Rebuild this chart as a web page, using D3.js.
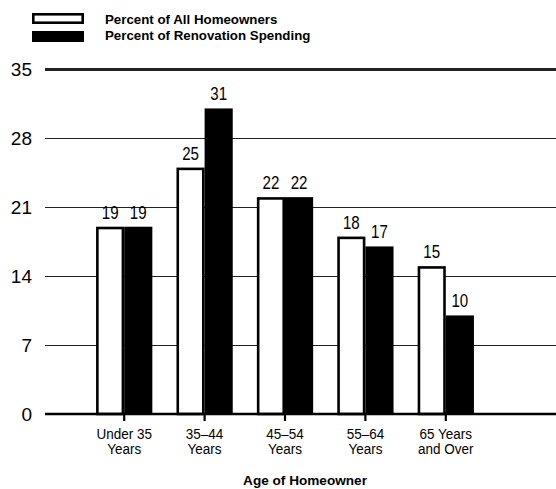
<!DOCTYPE html>
<html>
<head>
<meta charset="utf-8">
<script src="https://cdn.jsdelivr.net/npm/d3@7/dist/d3.min.js"></script>
<style>
  html, body { margin: 0; padding: 0; background: #fff; }
  svg { display: block; }
</style>
</head>
<body>
<svg id="chart" width="556" height="489"></svg>
<script>
// Age groups of homeowners and their two-line axis labels
const categories = ["Under 35 Years", "35–44 Years", "45–54 Years", "55–64 Years", "65 Years and Over"];
const categoryLabels = [["Under 35", "Years"], ["35–44", "Years"], ["45–54", "Years"], ["55–64", "Years"], ["65 Years", "and Over"]];

// Series (percent)
const seriesNames = ["Percent of All Homeowners", "Percent of Renovation Spending"];
const homeowners = [19, 25, 22, 18, 15];
const spending = [19, 31, 22, 17, 10];

// Y-axis ticks
const yTicks = [0, 7, 14, 21, 28, 35];
const axisTitle = "Age of Homeowner";

const W = 556, H = 489;
const plotLeft = 45, plotRight = 556, plotTop = 69, plotBottom = 414;

const sans = "'Liberation Sans', Arial, Helvetica, sans-serif";

const svg = d3.select("#chart");

const y = d3.scaleLinear().domain([0, 35]).range([plotBottom, plotTop]);
const x0 = d3.scaleBand().domain(categories).range([84, 486])
  .paddingInner(0.3).paddingOuter(0.15);
const x1 = d3.scaleBand().domain(seriesNames).range([0, x0.bandwidth()]);
const fills = d3.scaleOrdinal().domain(seriesNames).range(["#fff", "#000"]);

const rows = categories.map((c, i) => ({ cat: c, values: [homeowners[i], spending[i]] }));

// Horizontal gridlines with value labels
const yAxis = svg.append("g")
  .attr("transform", `translate(${plotLeft},0)`)
  .call(d3.axisLeft(y).tickValues(yTicks).tickSize(-(plotRight - plotLeft)).tickPadding(13));
yAxis.select(".domain").remove();
yAxis.selectAll(".tick line")
  .attr("stroke", "#222")
  .attr("stroke-width", d => (d === 35 ? 3 : d === 0 ? 0 : 1.2));
yAxis.selectAll(".tick text")
  .attr("font-family", sans)
  .attr("font-size", 19)
  .attr("fill", "#000");

// Bars
const groups = svg.append("g").selectAll("g")
  .data(rows)
  .join("g")
  .attr("transform", d => `translate(${x0(d.cat)},0)`);

const sw = 2.6;
groups.selectAll("rect")
  .data(d => d.values.map((v, j) => ({ name: seriesNames[j], value: v })))
  .join("rect")
  .attr("x", d => x1(d.name) + (d.name === seriesNames[0] ? sw / 2 : 0))
  .attr("y", d => y(d.value) + (d.name === seriesNames[0] ? sw / 2 : 0))
  .attr("width", d => x1.bandwidth() - (d.name === seriesNames[0] ? sw : 0))
  .attr("height", d => y(0) - y(d.value) - (d.name === seriesNames[0] ? sw / 2 : 0))
  .attr("fill", d => fills(d.name))
  .attr("stroke", d => d.name === seriesNames[0] ? "#000" : "none")
  .attr("stroke-width", sw);

// Value labels above bars (condensed)
groups.selectAll("text.val")
  .data(d => d.values.map((v, j) => ({ name: seriesNames[j], value: v })))
  .join("text")
  .attr("class", "val")
  .attr("transform", d => `translate(${x1(d.name) + x1.bandwidth() / 2},${y(d.value) - 8}) scale(0.84,1)`)
  .attr("text-anchor", "middle")
  .attr("font-family", sans)
  .attr("font-size", 18)
  .attr("fill", "#000")
  .text(d => d.value);

// Baseline and category axis
const xAxis = svg.append("g")
  .attr("transform", `translate(0,${plotBottom})`)
  .call(d3.axisBottom(x0).tickSize(7).tickPadding(6).tickSizeOuter(0));
xAxis.select(".domain").remove();
xAxis.insert("line", ":first-child")
  .attr("x1", plotLeft).attr("x2", plotRight)
  .attr("y1", 0).attr("y2", 0)
  .attr("stroke", "#000").attr("stroke-width", 2.6);
xAxis.selectAll(".tick line").attr("stroke", "#000").attr("stroke-width", 2.2);
xAxis.selectAll(".tick text").remove();
xAxis.selectAll(".tick").each(function (d) {
  const lines = categoryLabels[categories.indexOf(d)];
  d3.select(this).selectAll("text.cat")
    .data(lines)
    .join("text")
    .attr("class", "cat")
    .attr("transform", (ln, k) => `translate(0,${25 + k * 15}) scale(0.93,1)`)
    .attr("text-anchor", "middle")
    .attr("font-family", sans)
    .attr("font-size", 14.5)
    .attr("fill", "#000")
    .text(ln => ln);
});

// Axis title
svg.append("text")
  .attr("x", 305).attr("y", 485)
  .attr("text-anchor", "middle")
  .attr("font-family", sans)
  .attr("font-weight", "bold")
  .attr("font-size", 13.6)
  .attr("fill", "#000")
  .text(axisTitle);

// Legend
const legend = svg.append("g");
legend.append("rect")
  .attr("x", 33.3).attr("y", 14.3).attr("width", 49.4).attr("height", 8.4)
  .attr("fill", "#fff").attr("stroke", "#000").attr("stroke-width", 2.6);
legend.append("rect")
  .attr("x", 32).attr("y", 31).attr("width", 52).attr("height", 11)
  .attr("fill", "#000");
legend.selectAll("text.leg")
  .data(seriesNames)
  .join("text")
  .attr("class", "leg")
  .attr("x", 105)
  .attr("y", (d, i) => (i === 0 ? 24 : 39.5))
  .attr("font-family", sans)
  .attr("font-weight", "bold")
  .attr("font-size", 13.3)
  .attr("fill", "#000")
  .text(d => d);
</script>
</body>
</html>
